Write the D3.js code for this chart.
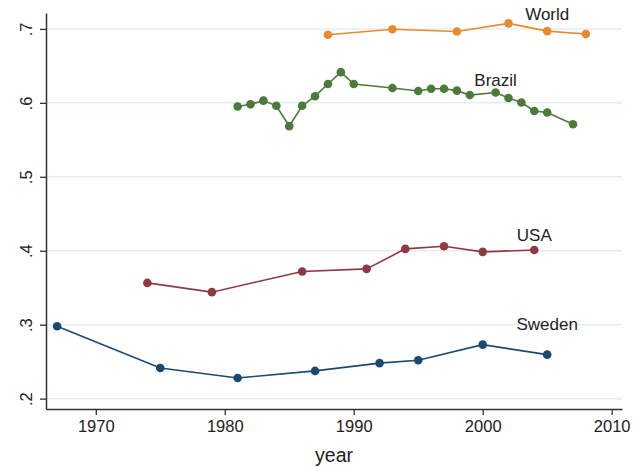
<!DOCTYPE html>
<html>
<head>
<meta charset="utf-8">
<script src="https://cdn.jsdelivr.net/npm/d3@7"></script>
<style>
  html, body { margin: 0; padding: 0; background: #fff; }
  svg text { font-family: "Liberation Sans", Arial, sans-serif; fill: #222; }
</style>
</head>
<body>
<div id="chart"></div>
<script>
const swedenYears = [1967, 1975, 1981, 1987, 1992, 1995, 2000, 2005];
const swedenValues = [0.298, 0.2415, 0.228, 0.2375, 0.248, 0.252, 0.273, 0.2595];

const usaYears = [1974, 1979, 1986, 1991, 1994, 1997, 2000, 2004];
const usaValues = [0.3565, 0.344, 0.372, 0.3755, 0.4025, 0.406, 0.3985, 0.401];

const brazilYears = [1981, 1982, 1983, 1984, 1985, 1986, 1987, 1988, 1989, 1990,
  1993, 1995, 1996, 1997, 1998, 1999, 2001, 2002, 2003, 2004, 2005, 2007];
const brazilValues = [0.595, 0.598, 0.603, 0.596, 0.5685, 0.596, 0.609, 0.6255, 0.6415, 0.6255,
  0.62, 0.616, 0.619, 0.619, 0.6165, 0.6105, 0.614, 0.6065, 0.6005, 0.589, 0.587, 0.571];

const worldYears = [1988, 1993, 1998, 2002, 2005, 2008];
const worldValues = [0.692, 0.6995, 0.6965, 0.7075, 0.697, 0.693];

const seriesNames = ["Sweden", "USA", "Brazil", "World"];
const seriesColors = ["#1a4a72", "#8e3943", "#4b7a3a", "#e8892e"];
const labelYears = [2005, 2004, 2001, 2005];
const labelValues = [0.30, 0.42, 0.63, 0.72];

const xTicks = [1970, 1980, 1990, 2000, 2010];
const yTicks = [0.2, 0.3, 0.4, 0.5, 0.6, 0.7];

const series = [
  { years: swedenYears, values: swedenValues },
  { years: usaYears, values: usaValues },
  { years: brazilYears, values: brazilValues },
  { years: worldYears, values: worldValues }
].map((s, i) => ({
  name: seriesNames[i],
  color: seriesColors[i],
  labelYear: labelYears[i],
  labelValue: labelValues[i],
  points: s.years.map((year, j) => ({ year, value: s.values[j] }))
}));

const width = 643;
const height = 467;
const margin = { top: 13, right: 21, bottom: 58, left: 46 };

const svg = d3.select("#chart").append("svg")
  .attr("width", width)
  .attr("height", height);

const x = d3.scaleLinear().domain([1966.14, 2010.8]).range([margin.left, width - margin.right]);
const y = d3.scaleLinear().domain([0.186, 0.7215]).range([height - margin.bottom, margin.top]);

// grid
svg.append("g")
  .selectAll("line")
  .data(yTicks).join("line")
  .attr("x1", margin.left).attr("x2", width - margin.right)
  .attr("y1", (d) => y(d)).attr("y2", (d) => y(d))
  .attr("stroke", "#e4edf1").attr("stroke-width", 1.5);

// lines and markers
const line = d3.line().x((d) => x(d.year)).y((d) => y(d.value));
const groups = svg.selectAll(".series").data(series).join("g").attr("class", "series");
groups.append("path")
  .attr("d", (d) => line(d.points))
  .attr("fill", "none")
  .attr("stroke", (d) => d.color)
  .attr("stroke-width", 1.6);
groups.selectAll("circle")
  .data((d) => d.points.map((p) => ({ ...p, color: d.color })))
  .join("circle")
  .attr("cx", (d) => x(d.year))
  .attr("cy", (d) => y(d.value))
  .attr("r", 4.3)
  .attr("fill", (d) => d.color);
groups.append("text")
  .attr("x", (d) => x(d.labelYear))
  .attr("y", (d) => y(d.labelValue))
  .attr("text-anchor", "middle")
  .attr("dominant-baseline", "central")
  .attr("font-size", 17)
  .text((d) => d.name);

// axes
const xAxis = svg.append("g")
  .attr("transform", `translate(0,${height - margin.bottom})`)
  .call(d3.axisBottom(x).tickValues(xTicks).tickFormat(d3.format("d")).tickSize(6).tickPadding(5).tickSizeOuter(0));
const yAxis = svg.append("g")
  .attr("transform", `translate(${margin.left},0)`)
  .call(d3.axisLeft(y).tickValues(yTicks).tickFormat((d) => d3.format(".1f")(d).replace(/^0/, "")).tickSize(6).tickSizeOuter(0));

[xAxis, yAxis].forEach((axis) => {
  axis.select(".domain").attr("stroke", "#333").attr("stroke-width", 1.5);
  axis.selectAll(".tick line").attr("stroke", "#333").attr("stroke-width", 1.3);
  axis.selectAll(".tick text").attr("font-size", 16.5).attr("fill", "#222")
    .attr("font-family", "'Liberation Sans', Arial, sans-serif");
});

yAxis.selectAll(".tick text")
  .attr("x", null).attr("dy", null)
  .attr("text-anchor", "middle")
  .attr("transform", "translate(-14.5,0) rotate(-90)");

svg.append("text")
  .attr("x", (margin.left + width - margin.right) / 2)
  .attr("y", 462)
  .attr("text-anchor", "middle")
  .attr("font-size", 19.5)
  .text("year");
</script>
</body>
</html>
